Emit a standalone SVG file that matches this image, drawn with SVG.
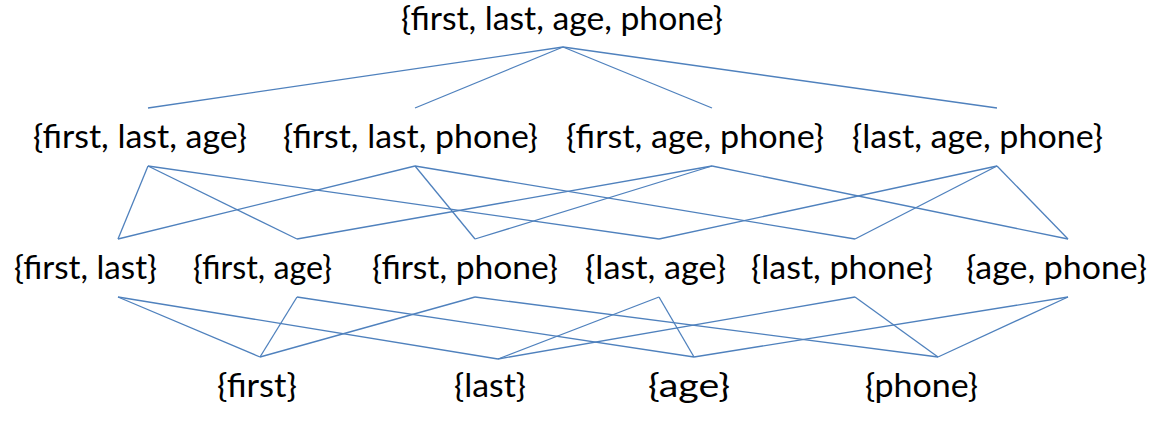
<svg xmlns="http://www.w3.org/2000/svg" width="1164" height="432" viewBox="0 0 1164 432">
<style>
text{font-family:"Lato","Open Sans","Liberation Sans",sans-serif;font-size:32px;fill:#000}
.e line{stroke:#4F81BD;stroke-width:1.3;fill:none}
</style>
<rect width="1164" height="432" fill="#fff"/>
<g class="e" id="connectors">
<line x1="563" y1="47" x2="148" y2="108"/>
<line x1="563" y1="47" x2="415" y2="108"/>
<line x1="563" y1="47" x2="712" y2="108"/>
<line x1="563" y1="47" x2="997" y2="108"/>
<line x1="148" y1="166" x2="118" y2="239"/>
<line x1="148" y1="166" x2="297" y2="239"/>
<line x1="148" y1="166" x2="659" y2="239"/>
<line x1="415" y1="166" x2="118" y2="239"/>
<line x1="415" y1="166" x2="475" y2="239"/>
<line x1="415" y1="166" x2="855" y2="239"/>
<line x1="712" y1="166" x2="297" y2="239"/>
<line x1="712" y1="166" x2="475" y2="239"/>
<line x1="712" y1="166" x2="1068" y2="239"/>
<line x1="997" y1="166" x2="659" y2="239"/>
<line x1="997" y1="166" x2="855" y2="239"/>
<line x1="997" y1="166" x2="1068" y2="239"/>
<line x1="118" y1="297" x2="260" y2="357"/>
<line x1="118" y1="297" x2="498" y2="359"/>
<line x1="297" y1="297" x2="260" y2="357"/>
<line x1="297" y1="297" x2="694" y2="357"/>
<line x1="475" y1="297" x2="260" y2="357"/>
<line x1="475" y1="297" x2="938" y2="357"/>
<line x1="659" y1="297" x2="498" y2="359"/>
<line x1="659" y1="297" x2="694" y2="357"/>
<line x1="855" y1="297" x2="498" y2="359"/>
<line x1="855" y1="297" x2="938" y2="357"/>
<line x1="1068" y1="297" x2="694" y2="357"/>
<line x1="1068" y1="297" x2="938" y2="357"/>
</g>
<g id="n-flap"><text x="401" y="30" textLength="322" lengthAdjust="spacingAndGlyphs">{first, last, age, phone}</text></g>
<g id="n-fla"><text x="33" y="148" textLength="214" lengthAdjust="spacingAndGlyphs">{first, last, age}</text></g>
<g id="n-flp"><text x="283" y="148" textLength="255" lengthAdjust="spacingAndGlyphs">{first, last, phone}</text></g>
<g id="n-fap"><text x="566" y="148" textLength="258" lengthAdjust="spacingAndGlyphs">{first, age, phone}</text></g>
<g id="n-lap"><text x="852" y="148" textLength="251" lengthAdjust="spacingAndGlyphs">{last, age, phone}</text></g>
<g id="n-fl"><text x="14" y="279" textLength="143" lengthAdjust="spacingAndGlyphs">{first, last}</text></g>
<g id="n-fa"><text x="193" y="279" textLength="139" lengthAdjust="spacingAndGlyphs">{first, age}</text></g>
<g id="n-fp"><text x="372" y="279" textLength="186" lengthAdjust="spacingAndGlyphs">{first, phone}</text></g>
<g id="n-la"><text x="585" y="279" textLength="141" lengthAdjust="spacingAndGlyphs">{last, age}</text></g>
<g id="n-lp"><text x="751" y="279" textLength="182" lengthAdjust="spacingAndGlyphs">{last, phone}</text></g>
<g id="n-ap"><text x="966" y="279" textLength="181" lengthAdjust="spacingAndGlyphs">{age, phone}</text></g>
<g id="n-f"><text x="217" y="397" textLength="80" lengthAdjust="spacingAndGlyphs">{first}</text></g>
<g id="n-l"><text x="454" y="397" textLength="72" lengthAdjust="spacingAndGlyphs">{last}</text></g>
<g id="n-a"><text x="648" y="397" textLength="82" lengthAdjust="spacingAndGlyphs">{age}</text></g>
<g id="n-p"><text x="865" y="397" textLength="113" lengthAdjust="spacingAndGlyphs">{phone}</text></g>
</svg>
